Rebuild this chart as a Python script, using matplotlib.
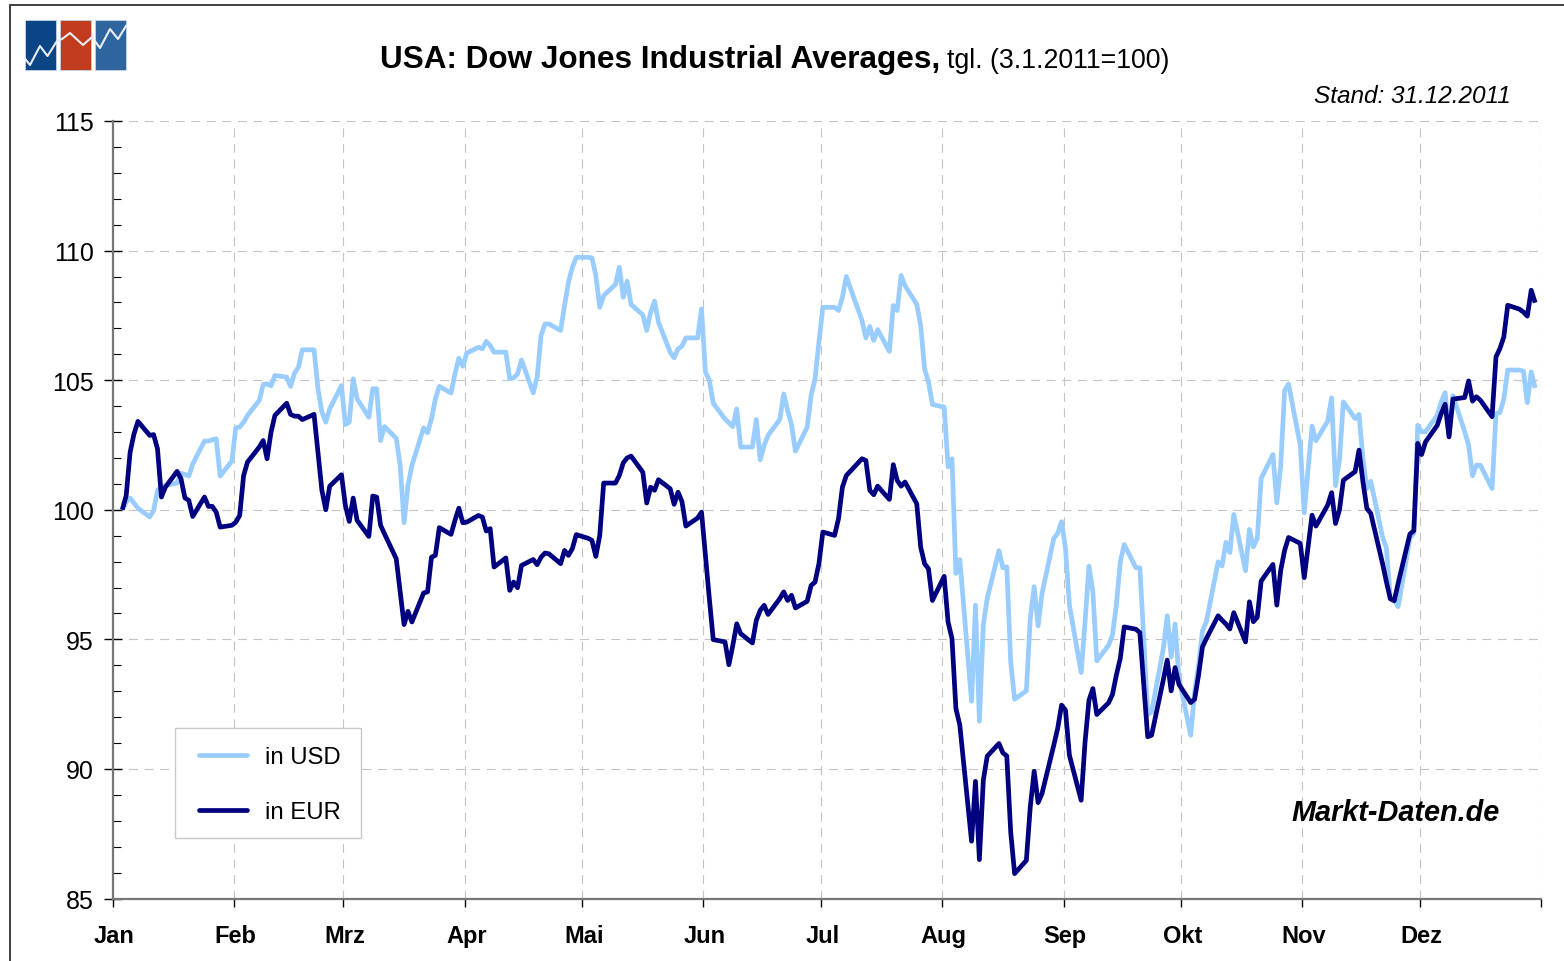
import numpy as np
import matplotlib
matplotlib.use('Agg')
import matplotlib.pyplot as plt
from matplotlib.patches import Rectangle
from matplotlib.transforms import ScaledTranslation

plt.rcParams['font.family'] = ['Liberation Sans', 'DejaVu Sans']

# day of year, index value (3.1.2011=100)
usd_days = [3,4,5,7,10,11,12,13,14,17,18,19,20,21,24,25,27,28,31,32,33,34,35,38,39,40,41,42,45,46,47,48,49,52,53,54,55,56,59,60,
            61,62,63,66,67,68,69,70,73,74,75,76,77,80,81,82,83,84,87,88,89,90,91,94,95,96,97,98,101,102,103,104,105,108,109,110,111,112,115,116,
            117,118,119,122,123,124,125,126,129,130,131,132,133,136,137,138,139,140,143,144,145,146,147,150,151,152,153,154,157,158,159,160,161,164,165,166,167,168,171,172,
            173,174,175,178,179,180,181,182,185,186,187,188,192,193,194,195,196,199,200,201,202,203,206,207,208,209,210,213,214,215,216,217,220,221,222,223,224,227,228,229,
            230,231,234,235,236,237,238,241,242,243,244,245,248,249,250,251,252,255,256,257,258,259,262,263,264,265,266,269,270,271,272,273,276,277,278,279,280,283,284,285,
            286,287,290,291,292,293,294,297,298,299,300,301,304,305,306,307,308,311,312,313,314,315,318,319,320,321,322,325,326,327,328,329,332,333,334,335,336,339,340,341,
            342,343,346,347,348,349,350,353,354,355,356,357,360,361,362,363,364]
usd_vals = [100.0,100.3,100.45,100.06,99.72,99.97,100.75,100.87,100.94,101.03,101.41,101.36,101.3,101.77,102.65,102.65,102.74,101.3,101.88,103.16,103.19,103.38,103.64,104.22,104.83,104.86,104.78,105.18,105.12,104.76,
            105.27,105.5,106.17,106.17,104.67,103.77,103.38,103.89,104.79,103.29,103.38,105.05,104.28,103.57,104.67,104.67,102.67,103.21,102.76,101.71,99.5,100.94,101.71,103.16,102.97,103.51,104.28,104.76,104.5,105.24,
            105.85,105.54,106.04,106.27,106.21,106.5,106.34,106.08,106.08,105.05,105.09,105.24,105.78,104.51,105.12,106.72,107.17,107.17,106.92,107.88,108.78,109.36,109.74,109.74,109.72,109.04,107.81,108.26,108.69,109.36,
            108.2,108.82,107.92,107.52,106.92,107.62,108.05,107.24,106.08,105.86,106.21,106.31,106.63,106.63,107.75,105.31,104.99,104.11,103.5,103.36,103.21,103.89,102.42,102.42,103.48,101.93,102.48,102.87,103.48,104.47,
            103.83,103.28,102.26,103.19,104.41,105.05,106.47,107.81,107.81,107.69,108.2,109.0,107.3,106.63,107.07,106.53,106.95,106.11,107.88,107.69,109.04,108.65,107.92,107.11,105.44,104.92,104.06,103.96,101.65,101.97,
            97.54,98.08,92.61,96.32,91.84,95.55,96.58,98.42,97.76,97.8,94.13,92.69,93.01,95.8,97.03,95.52,96.77,98.89,99.09,99.54,98.51,96.32,93.72,95.68,97.82,96.83,94.17,94.77,95.16,96.32,
            97.99,98.66,97.76,97.76,95.03,92.1,92.2,94.65,95.91,94.32,95.59,93.49,91.3,92.97,94.0,95.32,95.68,97.99,97.83,98.74,98.35,99.82,97.65,99.24,98.57,98.89,101.21,102.13,100.27,101.72,
            104.61,104.85,102.47,99.88,101.59,103.23,102.66,103.42,104.32,100.93,101.92,104.16,103.52,103.68,101.98,100.82,101.1,98.96,98.51,96.58,96.5,96.26,98.9,99.09,103.26,103.01,103.01,103.65,104.16,104.52,
            102.88,104.4,103.01,102.49,101.31,101.72,101.72,100.82,103.71,103.75,104.27,105.39,105.39,105.35,104.13,105.32,104.7]

eur_days = [3,4,5,6,7,10,11,12,13,14,17,18,19,20,21,24,25,26,27,28,31,32,33,34,35,38,39,40,41,42,45,46,47,48,49,52,53,54,55,56,
            59,60,61,62,63,66,67,68,69,70,73,74,75,76,77,80,81,82,83,84,87,88,89,90,91,94,95,96,97,98,101,102,103,104,105,108,109,110,111,112,
            115,116,117,118,119,122,123,124,125,126,129,130,131,132,133,136,137,138,139,140,143,144,145,146,147,150,151,152,153,154,157,158,159,160,161,164,165,166,167,168,
            171,172,173,174,175,178,179,180,181,182,185,186,187,188,192,193,194,195,196,199,200,201,202,203,206,207,208,209,210,213,214,215,216,217,220,221,222,223,224,227,
            228,229,230,231,234,235,236,237,238,241,242,243,244,245,248,249,250,251,252,255,256,257,258,259,262,263,264,265,266,269,270,271,272,273,276,277,278,279,280,283,
            284,285,286,287,290,291,292,293,294,297,298,299,300,301,304,305,306,307,308,311,312,313,314,315,318,319,320,321,322,325,326,327,328,329,332,333,334,335,336,339,
            340,341,342,343,346,347,348,349,350,353,354,355,356,357,360,361,362,363,364]
eur_vals = [100.0,100.55,102.22,102.93,103.41,102.87,102.9,102.35,100.49,100.87,101.48,101.2,100.46,100.36,99.74,100.49,100.13,100.13,99.91,99.33,99.4,99.52,99.78,101.32,101.84,102.42,102.67,101.97,102.99,103.64,
            104.11,103.68,103.61,103.61,103.48,103.68,102.22,100.75,100.0,100.91,101.35,100.17,99.55,100.45,99.59,98.97,100.53,100.49,99.4,99.07,98.11,96.83,95.57,96.08,95.67,96.79,96.83,98.17,98.24,99.31,
            99.05,99.59,100.06,99.5,99.52,99.78,99.72,99.18,99.27,97.79,98.14,96.89,97.21,96.99,97.85,98.08,97.88,98.17,98.33,98.3,97.92,98.43,98.24,98.5,99.04,98.9,98.82,98.2,99.01,101.03,
            101.03,101.32,101.81,102.0,102.07,101.45,100.26,100.87,100.75,101.16,100.81,100.21,100.68,100.32,99.37,99.68,99.91,98.24,96.57,94.99,94.9,94.02,94.77,95.6,95.22,94.86,95.73,96.12,96.31,95.96,
            96.57,96.83,96.5,96.7,96.21,96.47,97.08,97.21,97.92,99.14,99.01,99.65,100.87,101.32,101.97,101.9,100.75,100.58,100.91,100.4,101.74,101.13,100.91,101.07,100.23,98.56,97.92,97.72,96.5,97.43,
            95.67,95.03,92.33,91.69,87.21,89.52,86.5,89.56,90.49,90.98,90.62,90.5,87.57,85.96,86.47,88.53,89.91,88.7,89.05,90.91,91.56,92.46,92.27,90.53,88.79,91.04,92.65,93.1,92.1,92.55,
            92.87,93.62,94.26,95.48,95.39,95.26,93.23,91.24,91.3,93.44,94.2,93.01,93.91,93.26,92.56,92.69,93.62,94.71,95.03,95.91,95.74,95.59,95.4,96.03,94.9,96.45,95.68,95.85,97.25,97.89,
            96.32,97.67,98.44,98.93,98.7,97.38,98.57,99.79,99.37,100.18,100.66,99.47,99.99,101.14,101.47,102.3,101.08,100.05,99.86,97.93,97.22,96.56,96.49,97.16,99.06,99.19,102.56,102.13,102.62,103.26,
            103.71,104.07,102.81,104.27,104.33,104.97,104.19,104.36,104.23,103.59,105.9,106.22,106.67,107.89,107.74,107.63,107.47,108.47,107.99]

months = ['Jan','Feb','Mrz','Apr','Mai','Jun','Jul','Aug','Sep','Okt','Nov','Dez']
month_starts = [0,31,59,90,120,151,181,212,243,273,304,334,365]
y_ticks = [85,90,95,100,105,110,115]

W, H = 1564, 962
fig = plt.figure(figsize=(W/100, H/100), dpi=100, facecolor='w')
ax = fig.add_axes([112.5/W, 1-899.5/H, (1541-112.5)/W, (899.5-122)/H])

# decoration layer in pixel coordinates: outer frame and logo
deco = fig.add_axes([0, 0, 1, 1], zorder=-1)
deco.set_xlim(0, W)
deco.set_ylim(H, 0)
deco.axis('off')
deco.plot([10, 10, W], [H, 5.5, 5.5], color='#303030', lw=1.3, solid_joinstyle='miter')
for x0, c in zip([24.5, 59.5, 94.5], ['#0a4585', '#c03c1c', '#2f659f']):
    deco.add_patch(Rectangle((x0, 20.5), 31.5, 50.5, fc=c, ec='#c4d4e4', lw=0.6))
logo_x = [24.5,30,40,47.5,57,62,70,83,92,100,110,118,126]
logo_y = [59,66,47,57,42,40,34,46,38,49,30,40,27]
deco.plot(logo_x, logo_y, color='#e8eef4', lw=1.5)

ax.patch.set_alpha(0)
ax.plot(np.array(usd_days)-0.5, usd_vals, color='#99ccff', lw=3.4, solid_capstyle='butt', label='in USD')
ax.plot(np.array(eur_days)-0.5, eur_vals, color='#000080', lw=3.4, solid_capstyle='butt', label='in EUR')

ax.set_xlim(0, 365)
ax.set_ylim(85, 115)
ax.set_xticks(month_starts)
ax.set_xticklabels(months+[''], fontsize=17, fontweight='bold')
ax.set_yticks(y_ticks)
ax.set_yticks(np.arange(85, 116, 1), minor=True)
ax.tick_params(axis='y', which='major', direction='inout', length=13, width=1, labelsize=18, pad=7)
ax.tick_params(axis='y', which='minor', direction='in', length=6, width=0.8)
ax.tick_params(axis='x', which='major', direction='out', length=6, width=1, pad=12.7)
# month labels sit a little right of their ticks
for lab in ax.get_xticklabels():
    lab.set_transform(lab.get_transform()+ScaledTranslation(1.6/100, 0, fig.dpi_scale_trans))
ax.grid(True, which='major', color='#c4c4c4', lw=0.8, linestyle=(0, (8, 6)))
ax.set_axisbelow(True)
for s in ['top', 'right']:
    ax.spines[s].set_visible(False)
for s in ['left', 'bottom']:
    ax.spines[s].set_color('#777777')
    ax.spines[s].set_linewidth(1.6)

# legend box drawn separately so its size can be set apart from the entries
ax.add_patch(Rectangle((175/W, 1-838.5/H), 186/W, 109.5/H, transform=fig.transFigure, fc='w', ec='#c8c8c8',
                       lw=1.0, zorder=4, clip_on=False))
leg = ax.legend(loc='lower left', bbox_to_anchor=((199-112.5)/(1541-112.5), (899.5-824)/(899.5-122)),
                borderaxespad=0, borderpad=0, frameon=False, fontsize=17.2,
                handlelength=2.0, handletextpad=0.75, labelspacing=1.38)
leg.set_zorder(5)
for ln in leg.get_lines():
    ln.set_solid_capstyle('round')

fig.text(380/W, 1-60/H, 'USA: Dow Jones Industrial Averages,', fontsize=22.7, fontweight='bold', va='center', ha='left')
fig.text(947/W, 1-61/H, 'tgl. (3.1.2011=100)', fontsize=19.3, va='center', ha='left')
fig.text(1511/W, 1-96.5/H, 'Stand: 31.12.2011', fontsize=17.6, style='italic', va='center', ha='right')
fig.text(1500/W, 1-813/H, 'Markt-Daten.de', fontsize=20.8, style='italic', fontweight='bold', va='center', ha='right')

plt.savefig('out.png', dpi=100)
